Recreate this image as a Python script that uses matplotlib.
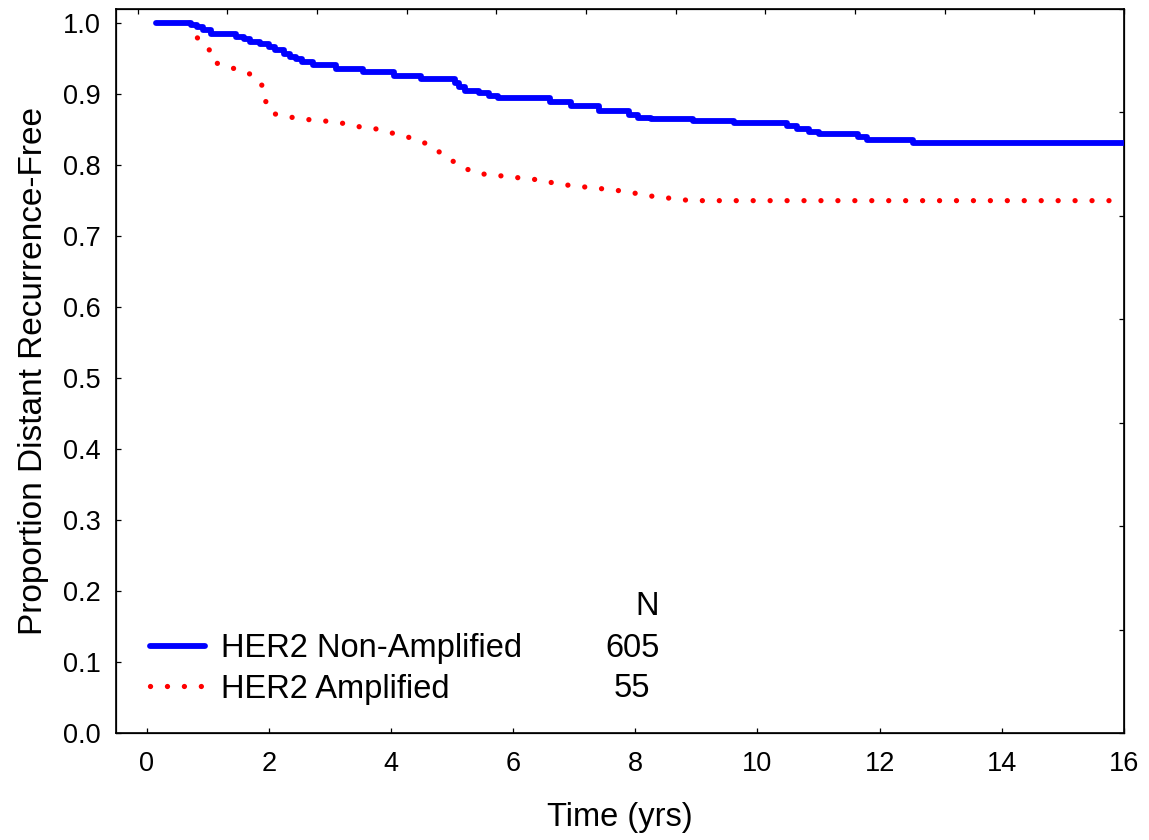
import matplotlib
matplotlib.use("Agg")
import matplotlib.pyplot as plt
import numpy as np

plt.rcParams['font.family'] = ['Liberation Sans', 'DejaVu Sans']

# HER2 Non-Amplified (step curve)
t_non = [0.16, 0.72, 0.82, 0.93, 1.05, 1.47, 1.60, 1.70, 1.85, 2.00, 2.10, 2.25,
         2.35, 2.45, 2.55, 2.72, 3.10, 3.55, 4.05, 4.50, 5.05, 5.12, 5.22, 5.45,
         5.60, 5.75, 6.60, 6.95, 7.40, 7.90, 8.05, 8.25, 8.95, 9.62, 10.48, 10.65,
         10.85, 11.00, 11.65, 11.80, 12.55, 16.0]
s_non = [1.000, 0.998, 0.995, 0.991, 0.985, 0.981, 0.978, 0.974, 0.971, 0.966, 0.962, 0.957,
         0.953, 0.949, 0.946, 0.941, 0.936, 0.931, 0.926, 0.921, 0.916, 0.910, 0.905, 0.901,
         0.897, 0.895, 0.889, 0.883, 0.876, 0.871, 0.867, 0.865, 0.862, 0.860, 0.855, 0.851,
         0.847, 0.844, 0.840, 0.836, 0.831, 0.831]

# HER2 Amplified
t_amp = [0.70, 0.80, 1.02, 1.10, 1.40, 1.68, 1.88, 1.95, 2.05, 2.40, 2.67, 2.94,
         3.21, 3.49, 3.76, 4.03, 4.30, 4.56, 4.84, 5.11, 5.38, 5.65, 5.93, 6.20,
         6.47, 6.74, 7.01, 7.29, 7.56, 7.83, 8.09, 8.36, 8.63, 8.90, 16.0]
s_amp = [1.000, 0.982, 0.964, 0.945, 0.937, 0.929, 0.915, 0.890, 0.873, 0.867, 0.864, 0.862,
         0.859, 0.854, 0.851, 0.845, 0.839, 0.831, 0.816, 0.800, 0.789, 0.786, 0.784, 0.781,
         0.779, 0.773, 0.771, 0.768, 0.766, 0.763, 0.759, 0.755, 0.753, 0.750, 0.750]

labels = ['HER2 Non-Amplified', 'HER2 Amplified']
counts = ['605', '55']

fig = plt.figure(figsize=(11.49, 8.4), dpi=100)
ax = fig.add_axes([116 / 1149, 1 - 733 / 840, 1008 / 1149, 724 / 840])

ax.plot(t_amp, s_amp, color='#FF0000', lw=3.8, linestyle=(0, (0.01, 3.2)),
        dash_capstyle='round', label=labels[1], zorder=2)
ax.plot(t_non, s_non, color='#0000FF', lw=4.2, drawstyle='steps-post',
        solid_capstyle='round', label=labels[0], zorder=3)

ax.set_xlim(-0.5, 16)
ax.set_ylim(0, 1.02)
ax.set_xticks(np.arange(0, 17, 2))
ax.set_yticks(np.arange(0, 1.01, 0.1))
ax.set_yticklabels([f'{v:.1f}' for v in np.arange(0, 1.01, 0.1)])
ax.tick_params(direction='in', length=3.6, width=0.9, labelsize=19.5, pad=11)
ax.tick_params(axis='x', pad=13)
for sp in ax.spines.values():
    sp.set_linewidth(1.2)

ax.set_xlabel('Time (yrs)', fontsize=23.5, labelpad=18)
ax.set_ylabel('Proportion Distant Recurrence-Free', fontsize=24, labelpad=10)

# unlabeled ticks on top and right frame
axt = ax.twiny()
axt.set_xlim(ax.get_xlim())
axt.set_xticks(np.linspace(-0.147, 16, 12))
axt.tick_params(direction='in', length=3.6, width=0.9, labeltop=False)
axr = ax.twinx()
axr.set_ylim(ax.get_ylim())
axr.set_yticks(np.linspace(0, 1.02, 8))
axr.tick_params(direction='in', length=3.6, width=0.9, labelright=False)

h, l = ax.get_legend_handles_labels()
leg = ax.legend(h[::-1], l[::-1], loc='upper left', bbox_to_anchor=(0.0337, 0.138),
                frameon=False, fontsize=23.5, handlelength=1.68, handletextpad=0.5,
                labelspacing=0.3, borderpad=0, borderaxespad=0)

ax.text(0.527, 0.175, 'N', transform=ax.transAxes, ha='center', va='center', fontsize=23.5)
ax.text(0.512, 0.1174, counts[0], transform=ax.transAxes, ha='center', va='center', fontsize=23.5)
ax.text(0.512, 0.062, counts[1], transform=ax.transAxes, ha='center', va='center', fontsize=23.5)

fig.savefig('out.png', dpi=100)
